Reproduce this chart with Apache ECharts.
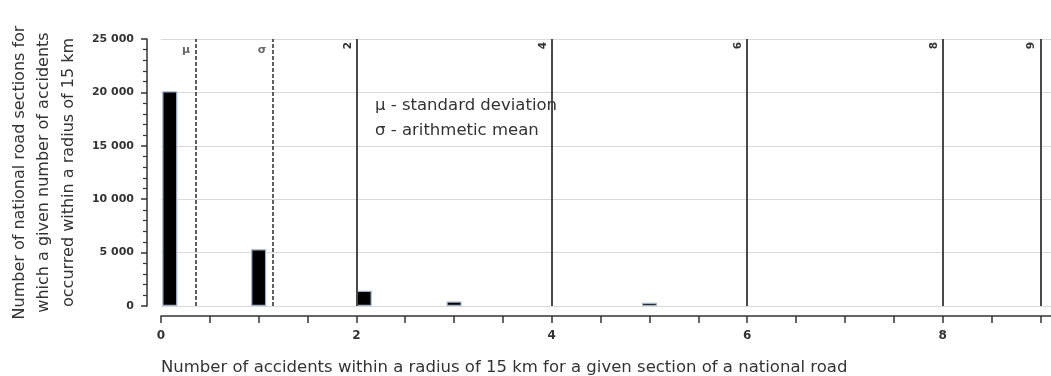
<!DOCTYPE html>
<html>
<head>
<meta charset="utf-8">
<script src="https://cdn.jsdelivr.net/npm/echarts@6/dist/echarts.min.js"></script>
<style>html,body{margin:0;padding:0;background:#fff}#c{width:1051px;height:376px}</style>
</head>
<body>
<div id="c"></div>
<script>
// Data
var barX = [0.09, 1, 2.08, 3, 5];          // bar centre positions (number of accidents)
var barY = [20100, 5310, 1430, 420, 300];  // number of road sections
var dashedLines = [{x: 0.36, label: 'μ'}, {x: 1.14, label: 'σ'}];
var solidLines = [{x: 2, label: '2'}, {x: 4, label: '4'}, {x: 6, label: '6'}, {x: 8, label: '8'}, {x: 9, label: '9'}];
var xTicks = [0,0.5,1,1.5,2,2.5,3,3.5,4,4.5,5,5.5,6,6.5,7,7.5,8,8.5,9];
var xLabels = [0, 2, 4, 6, 8];
var yTitleLines = ['Number of national road sections for', 'which a given number of accidents', 'occurred within a radius of 15 km'];
var xTitle = 'Number of accidents within a radius of 15 km for a given section of a national road';
var legendLines = ['μ - standard deviation', 'σ - arithmetic mean'];

var chart = echarts.init(document.getElementById('c'), null, {renderer: 'canvas'});
var barData = barX.map(function (x, i) { return [x, barY[i]]; });

var markData = [];
solidLines.forEach(function (l) {
  markData.push([
    {coord: [l.x, 0], lineStyle: {type: 'solid', width: 2, color: '#4a4a4a'},
     label: {show: true, formatter: l.label, position: 'insideEndTop', distance: 3, fontSize: 10.5, color: '#333', fontFamily: 'DejaVu Sans', fontWeight: 'bold'}},
    {coord: [l.x, 25000]}
  ]);
});
dashedLines.forEach(function (l) {
  markData.push([
    {coord: [l.x, 0], lineStyle: {type: [4, 2], width: 1.7, color: '#444'}, label: {show: false}},
    {coord: [l.x, 25000]}
  ]);
});

var option = {
  animation: false,
  backgroundColor: '#fff',
  grid: {left: 161, right: 0, top: 39, bottom: 70, containLabel: false, outerBoundsMode: 'none'},
  title: [
    {text: xTitle, left: 156, top: 354, textStyle: {fontFamily: 'DejaVu Sans', fontWeight: 'normal', fontSize: 16.5, color: '#333'}},
    {text: legendLines.join('\n'), left: 370, top: 88, textStyle: {fontFamily: 'DejaVu Sans', fontWeight: 'normal', fontSize: 16.5, lineHeight: 25, color: '#333'}}
  ],
  xAxis: {
    type: 'value', min: 0, max: 9.11, offset: 10,
    axisLine: {show: true, onZero: false, lineStyle: {color: '#333', width: 1.5}},
    axisTick: {show: true, customValues: xTicks, length: 7, lineStyle: {color: '#333', width: 1.5}},
    axisLabel: {customValues: xLabels, color: '#333', fontFamily: 'DejaVu Sans', fontWeight: 'bold', fontSize: 12, margin: 14},
    splitLine: {show: false}
  },
  yAxis: {
    type: 'value', min: 0, max: 25000, interval: 5000, offset: 14,
    axisLine: {show: true, onZero: false, lineStyle: {color: '#333', width: 1.5}},
    axisTick: {show: true, length: 6, lineStyle: {color: '#333', width: 1.5}},
    minorTick: {show: true, splitNumber: 5, length: 4, lineStyle: {color: '#333', width: 1.2}},
    axisLabel: {color: '#333', fontFamily: 'DejaVu Sans', fontWeight: 'bold', fontSize: 11, margin: 13,
      formatter: function (v) { return String(v).replace(/\B(?=(\d{3})+(?!\d))/g, ' '); }},
    splitLine: {show: true, lineStyle: {color: '#d9d9d9', width: 1}},
    name: yTitleLines.join('\n'), nameLocation: 'middle', nameGap: 42, nameRotate: 90,
    nameTextStyle: {fontFamily: 'DejaVu Sans', fontSize: 16, lineHeight: 24.5, color: '#333', align: 'center'}
  },
  series: [
    {
      type: 'bar', data: barData, barWidth: 15,
      itemStyle: {color: '#000', borderColor: '#9fb2c6', borderWidth: 1.2},
      markLine: {symbol: ['none', 'none'], silent: true, animation: false, data: markData}
    },
    {
      type: 'scatter', symbolSize: 0, silent: true,
      data: dashedLines.map(function (l) { return [l.x, 24000]; }),
      label: {show: true, position: 'left', distance: 6,
        formatter: function (p) { return dashedLines[p.dataIndex].label; },
        fontSize: 11, color: '#444', fontFamily: 'DejaVu Sans', fontWeight: 'bold'}
    }
  ]
};
chart.setOption(option);
</script>
</body>
</html>
